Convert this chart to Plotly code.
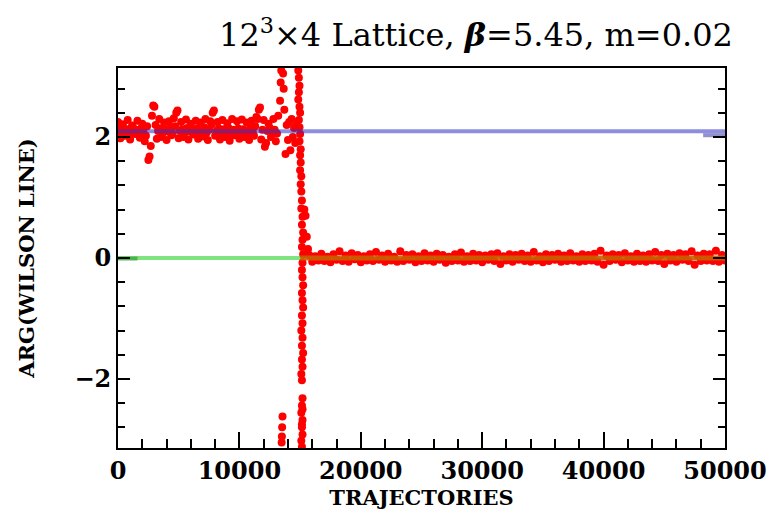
import math
import plotly.graph_objects as go

# arg of the Wilson line per trajectory
# confined phase, near 2*pi/3
traj_a = list(range(0, 13400, 200))
arg_a = [2.25, 1.98, 2.21, 2.02, 2.28, 1.96, 2.19, 2.05, 2.27, 1.99,
         2.22, 1.93, 2.18, 1.68, 2.35, 2.50, 1.97, 2.30, 2.00, 2.24,
         1.95, 2.26, 2.03, 2.31, 2.40, 1.98, 2.25, 2.00, 2.29, 1.96,
         2.22, 2.04, 2.27, 1.97, 2.24, 2.01, 2.30, 1.95, 2.26, 2.40,
         2.02, 2.25, 1.96, 2.28, 2.00, 2.23, 1.94, 2.30, 2.03, 2.26,
         1.97, 2.29, 2.00, 2.24, 1.95, 2.27, 2.02, 2.33, 2.45, 1.96,
         2.28, 1.90, 2.22, 2.00, 2.30, 1.93, 2.35]
traj_a_mid = list(range(100, 13200, 200))
arg_a_mid = [2.10, 2.15, 2.08, 2.13, 2.06, 2.16, 2.09, 2.12, 2.05, 2.14,
             2.08, 2.02, 1.62, 1.85, 2.52, 2.20, 2.10, 2.14, 2.07, 2.12,
             2.09, 2.15, 2.06, 2.18, 2.44, 2.10, 2.13, 2.07, 2.15, 2.09,
             2.12, 2.06, 2.14, 2.08, 2.11, 2.16, 2.07, 2.12, 2.20, 2.44,
             2.09, 2.14, 2.06, 2.13, 2.08, 2.15, 2.05, 2.12, 2.09, 2.14,
             2.07, 2.13, 2.10, 2.06, 2.15, 2.09, 2.18, 2.30, 2.49, 2.12,
             1.84, 2.10, 2.15, 2.07, 2.12, 2.06]

# tunnelling spikes before the transition
traj_b = [13350, 13400, 13450, 13480, 13500, 13520, 13550, 13600, 13650,
          13700, 13800, 13900, 14000, 14100, 14200, 14300, 14400, 14500,
          14600, 14700]
arg_b = [2.60, 2.90, 3.10, -3.05, -2.95, -2.80, -2.62, 3.05, 2.80,
         2.45, 1.72, 2.20, 1.95, 2.25, 1.78, 2.30, 2.00, 2.15, 1.90, 2.20]

# the transition column near 15000
traj_t = [14850, 14900, 14950, 14900, 14850, 14950, 15000, 14900, 14950,
          15000, 14950, 15050, 15000, 15050, 15000, 15100, 15050, 15100,
          15150, 15100, 15200, 15150, 15250, 15200, 15150, 15250, 15200,
          15150, 15200, 15250, 15150, 15200, 15250, 15150, 15200, 15100,
          15200, 15150, 15250, 15150, 15200, 15100, 15150, 15200, 15150,
          15100, 15200, 15150, 15200, 15100, 15150, 15200, 15150,
          15350, 15450, 15550, 15650]
arg_t = [3.10, 2.98, 2.85, 2.74, 2.62, 2.50, 2.40, 2.28, 2.16, 2.05,
         1.93, 1.80, 1.70, 1.58, 1.45, 1.35, 1.22, 1.10, 0.95, 0.82,
         0.68, 0.55, 0.42, 0.30, 0.18, 0.06, -0.08, -0.20, -0.32, -0.45,
         -0.58, -0.70, -0.82, -0.95, -1.08, -1.20, -1.32, -1.45, -1.57,
         -1.68, -1.80, -1.92, -2.02, -2.32, -2.44, -2.56, -2.68, -2.80,
         -2.92, -3.02, -3.12, -2.50, -2.75,
         0.80, 0.70, 0.35, 0.15]

# deconfined phase, near 0
traj_c = list(range(15750, 50001, 250))
arg_c = [0.05, -0.06, 0.03, -0.04, 0.07, -0.05, 0.02, -0.07, 0.06, -0.03,
         0.11, -0.05, 0.04, -0.06, 0.08, -0.02, 0.05, -0.07, 0.03, -0.04,
         0.06, -0.05, 0.10, -0.03, 0.04, -0.06, 0.07, -0.04, 0.02, -0.06,
         0.11, -0.05, 0.05, -0.03, 0.06, -0.07, 0.03, -0.05, 0.08, -0.04,
         0.04, -0.06, 0.07, -0.03, 0.05, -0.08, 0.02, -0.05, 0.06, -0.04,
         0.09, -0.06, 0.03, -0.05, 0.07, -0.04, 0.05, -0.07, 0.04, -0.03,
         0.06, -0.05, 0.08, -0.10, 0.03, -0.04, 0.06, -0.06, 0.05, -0.03,
         0.07, -0.05, 0.04, -0.06, 0.10, -0.04, 0.03, -0.07, 0.06, -0.05,
         0.05, -0.03, 0.07, -0.06, 0.04, -0.05, 0.08, -0.04, 0.03, -0.06,
         0.06, -0.05, 0.05, -0.04, 0.07, -0.06, 0.12, -0.11, 0.04, -0.05,
         0.06, -0.03, 0.05, -0.07, 0.08, -0.04, 0.03, -0.06, 0.07, -0.05,
         0.04, -0.06, 0.06, -0.04, 0.10, -0.05, 0.05, -0.10, 0.07, -0.04,
         0.05, -0.06, 0.08, -0.03, 0.06, -0.05, 0.11, -0.11, 0.04, -0.05,
         0.07, -0.04, 0.06, -0.05, 0.12, -0.06, 0.05, -0.04]

z3_phase = 2 * math.pi / 3
x_min, x_max = 0, 50000
x_switch = 15000

traj = traj_a + traj_a_mid + traj_b + traj_t + traj_c
arg = arg_a + arg_a_mid + arg_b + arg_t + arg_c

serif = "DejaVu Serif"

fig = go.Figure()

fig.add_trace(go.Scatter(
    x=traj, y=arg, mode="markers",
    marker=dict(color="#ff0000", size=8, line=dict(width=0)),
    showlegend=False,
))

# reference phases drawn over the points
fig.add_trace(go.Scatter(
    x=[x_min, x_max], y=[z3_phase, z3_phase], mode="lines",
    line=dict(color="rgba(50,50,200,0.55)", width=4), showlegend=False,
))
fig.add_trace(go.Scatter(
    x=[48200, x_max], y=[2.03, 2.03], mode="lines",
    line=dict(color="rgba(70,70,170,0.6)", width=4), showlegend=False,
))
fig.add_trace(go.Scatter(
    x=[x_min, x_switch], y=[0, 0], mode="lines",
    line=dict(color="rgba(0,200,0,0.5)", width=4), showlegend=False,
))
fig.add_trace(go.Scatter(
    x=[x_min, 1600], y=[-0.01, -0.01], mode="lines",
    line=dict(color="rgba(40,150,40,0.6)", width=4), showlegend=False,
))
fig.add_trace(go.Scatter(
    x=[x_switch, x_max], y=[0, 0], mode="lines",
    line=dict(color="rgba(200,95,0,0.9)", width=5), showlegend=False,
))

fig.update_layout(
    width=767, height=523,
    margin=dict(l=118, r=42, t=68, b=75),
    paper_bgcolor="white", plot_bgcolor="white",
    title=dict(
        text="12<sup>3</sup>×4 Lattice, <b><i>β</i></b>=5.45, m=0.02",
        x=476 / 767, xref="container", y=1 - 35 / 523, yref="container",
        xanchor="center", yanchor="middle",
        font=dict(family=serif, size=32, color="black"),
    ),
)

fig.update_xaxes(
    range=[x_min, x_max], dtick=10000, tick0=0, tickformat="d",
    automargin=False,
    ticks="inside", ticklen=16, tickwidth=1.5, tickcolor="black",
    minor=dict(dtick=2000, ticks="inside", ticklen=9, tickwidth=1.5,
               tickcolor="black"),
    showline=True, linecolor="black", linewidth=2, mirror=True,
    showgrid=False, zeroline=False,
    tickfont=dict(family=serif, size=24, color="black", weight="bold"),
    title=dict(text="TRAJECTORIES", standoff=6,
               font=dict(family=serif, size=21, color="black",
                         weight="bold")),
)

fig.update_yaxes(
    range=[-math.pi, math.pi], tickvals=[-2, 0, 2],
    automargin=False,
    ticks="inside", ticklen=12, tickwidth=1.5, tickcolor="black",
    minor=dict(dtick=0.4, tick0=0, ticks="inside", ticklen=7, tickwidth=1.5,
               tickcolor="black"),
    showline=True, linecolor="black", linewidth=2, mirror="ticks",
    showgrid=False, zeroline=False,
    tickfont=dict(family=serif, size=24, color="black", weight="bold"),
    title=dict(text="ARG(WILSON LINE)", standoff=34,
               font=dict(family=serif, size=21, color="black",
                         weight="bold")),
)

fig.write_html("out.html", config={"displayModeBar": False},
               post_script="document.body.style.margin='0';")
